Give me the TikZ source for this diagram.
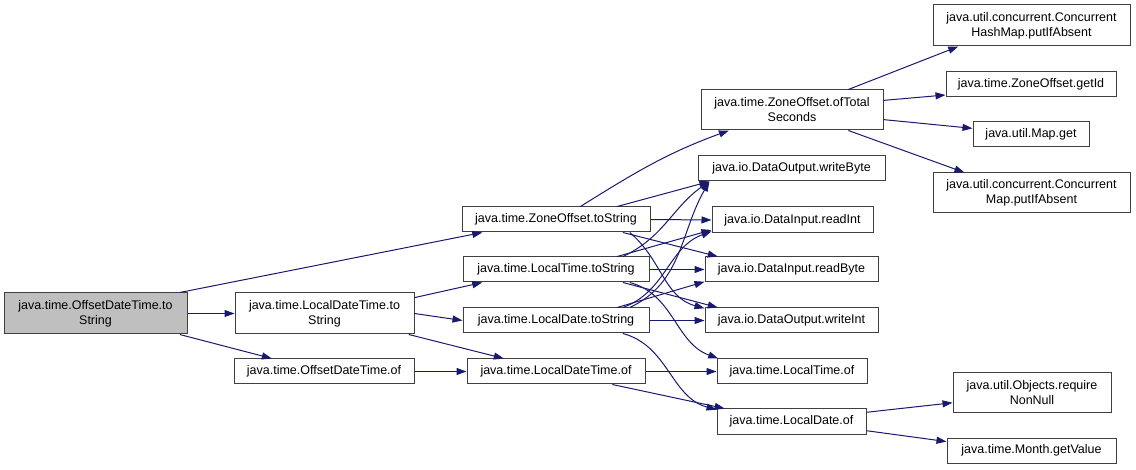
\documentclass[tikz,border=0pt]{standalone}
\usepackage{fontspec}
\setmainfont{Liberation Sans}
\usepackage{xcolor}
\usepackage{tikz}
\usetikzlibrary{arrows.meta, positioning}

\definecolor{edgeblue}{HTML}{191970}
\definecolor{rootgray}{HTML}{BFBFBF}

\begin{document}
\begin{tikzpicture}[
    x=1pt, y=-1pt,
    box/.style={rectangle, draw=black!75, line width=1pt, fill=white, minimum height=25pt, inner sep=0pt, align=center, font=\fontsize{12.5}{15}\selectfont},
    tallbox/.style={box, minimum height=41pt},
    arrow/.style={-{Triangle[length=10pt, width=7pt]}, line width=1pt, edgeblue},
]
\useasboundingbox (0,0) rectangle (1136,470);

% ===== Caller =====
\node[tallbox, fill=rootgray, minimum width=183pt] (odtToString) at (95.5,313.5) {java.time.OffsetDateTime.to\\String};

% ===== Level 1 =====
\node[tallbox, minimum width=179pt] (ldtToString) at (324.5,313.5) {java.time.LocalDateTime.to\\String};
\node[box, minimum width=180pt] (odtOf) at (324,371.5) {java.time.OffsetDateTime.of};

% ===== Level 2 =====
\node[box, minimum width=188pt] (zoToString) at (556,219.5) {java.time.ZoneOffset.toString};
\node[box, minimum width=186pt] (ltToString) at (556,269.5) {java.time.LocalTime.toString};
\node[box, minimum width=186pt] (ldToString) at (556,320.5) {java.time.LocalDate.toString};
\node[box, minimum width=178pt] (ldtOf) at (556,371.5) {java.time.LocalDateTime.of};

% ===== Level 3 =====
\node[tallbox, minimum width=182pt, minimum height=40pt] (zoOfTotal) at (792,110) {java.time.ZoneOffset.ofTotal\\Seconds};
\node[box, minimum width=187pt] (writeByte) at (791.5,168.5) {java.io.DataOutput.writeByte};
\node[box, minimum width=161pt, minimum height=26pt] (readInt) at (792.5,220) {java.io.DataInput.readInt};
\node[box, minimum width=173pt] (readByte) at (791.5,269.5) {java.io.DataInput.readByte};
\node[box, minimum width=173pt] (writeInt) at (791.5,320.5) {java.io.DataOutput.writeInt};
\node[box, minimum width=150pt] (ltOf) at (792,371.5) {java.time.LocalTime.of};
\node[box, minimum width=149pt] (ldOf) at (791.5,421.5) {java.time.LocalDate.of};

% ===== Level 4 =====
\node[tallbox, minimum width=197pt] (chmPut) at (1031.5,25.5) {java.util.concurrent.Concurrent\\HashMap.putIfAbsent};
\node[box, minimum width=170pt] (getId) at (1031,84.5) {java.time.ZoneOffset.getId};
\node[box, minimum width=116pt] (mapGet) at (1031,134.5) {java.util.Map.get};
\node[tallbox, minimum width=197pt, minimum height=40pt] (cmPut) at (1031.5,193) {java.util.concurrent.Concurrent\\Map.putIfAbsent};
\node[tallbox, minimum width=158pt, minimum height=40pt] (reqNonNull) at (1032,393) {java.util.Objects.require\\NonNull};
\node[box, minimum width=169pt] (getValue) at (1031.5,450.5) {java.time.Month.getValue};

% ===== Calls from the caller =====
\draw[arrow] (odtToString.14) -- (zoToString.190);
\draw[arrow] (odtToString.east) -- (ldtToString.west);
\draw[arrow] (odtToString.346) -- (odtOf.166);

% ===== Level 1 calls =====
\draw[arrow] (ldtToString.10) -- (ltToString.190);
\draw[arrow] (ldtToString.east) -- (ldToString.west);
\draw[arrow] (ldtToString.346) -- (ldtOf.166);
\draw[arrow] (odtOf.east) -- (ldtOf.west);

% ===== ZoneOffset.toString =====
\draw[arrow] (zoToString.28) to[out=32, in=200] (zoOfTotal.198);
\draw[arrow] (zoToString.12) -- (writeByte.189);
\draw[arrow] (zoToString.east) -- (readInt.west);
\draw[arrow] (zoToString.349) -- (readByte.170);
\draw[arrow] (zoToString.350) to[out=-40, in=165] (writeInt.172);

% ===== LocalTime.toString =====
\draw[arrow] (ltToString.11) to[out=25, in=215] (writeByte.189);
\draw[arrow] (ltToString.12) -- (readInt.187);
\draw[arrow] (ltToString.east) -- (readByte.west);
\draw[arrow] (ltToString.349) -- (writeInt.170);
\draw[arrow] (ltToString.350) to[out=-15, in=160] (ltOf.170);

% ===== LocalDate.toString =====
\draw[arrow] (ldToString.10) to[out=25, in=240] (writeByte.189);
\draw[arrow] (ldToString.11) to[out=20, in=200] (readInt.188);
\draw[arrow] (ldToString.12) -- (readByte.188);
\draw[arrow] (ldToString.east) -- (writeInt.west);
\draw[arrow] (ldToString.349) to[out=-15, in=165] (ldOf.171);

% ===== LocalDateTime.of =====
\draw[arrow] (ldtOf.east) -- (ltOf.west);
\draw[arrow] (ldtOf.347) -- (ldOf.169);

% ===== ZoneOffset.ofTotalSeconds =====
\draw[arrow] (zoOfTotal.20) -- (chmPut.196);
\draw[arrow] (zoOfTotal.6) -- (getId.187);
\draw[arrow] (zoOfTotal.354) -- (mapGet.174);
\draw[arrow] (zoOfTotal.340) -- (cmPut.163);

% ===== LocalDate.of =====
\draw[arrow] (ldOf.7) -- (reqNonNull.187);
\draw[arrow] (ldOf.353) -- (getValue.174);

\end{tikzpicture}
\end{document}
